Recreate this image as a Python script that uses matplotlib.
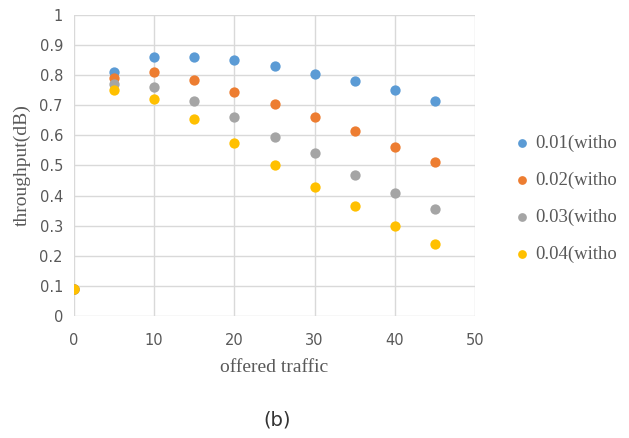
import matplotlib.pyplot as plt

x = [0, 5, 10, 15, 20, 25, 30, 35, 40, 45]
s001 = [0.09, 0.81, 0.86, 0.86, 0.85, 0.83, 0.805, 0.78, 0.75, 0.715]
s002 = [0.09, 0.79, 0.81, 0.785, 0.745, 0.705, 0.66, 0.615, 0.56, 0.51]
s003 = [0.09, 0.77, 0.76, 0.715, 0.66, 0.595, 0.54, 0.47, 0.41, 0.355]
s004 = [0.09, 0.75, 0.72, 0.655, 0.575, 0.50, 0.43, 0.365, 0.30, 0.24]
# legend text is cut at the right edge in the original figure
labels = ["0.01(witho", "0.02(witho", "0.03(witho", "0.04(witho"]
colors = ["#5B9BD5", "#ED7D31", "#A5A5A5", "#FFC000"]

fig = plt.figure(figsize=(6.29, 4.38), dpi=100)
ax = fig.add_axes([74/629, 1 - 316/438, 401/629, 301/438])

for ys, lab, c in zip([s001, s002, s003, s004], labels, colors):
    ax.scatter(x, ys, s=55, color=c, label=lab, zorder=3, linewidths=0)

ax.set_xlim(0, 50)
ax.set_ylim(0, 1)
ax.set_xticks(range(0, 51, 10))
ax.set_yticks([i / 10 for i in range(11)])
ax.set_yticklabels(["0", "0.1", "0.2", "0.3", "0.4", "0.5", "0.6", "0.7", "0.8", "0.9", "1"])
ax.grid(True, color="#D9D9D9", linewidth=1)
ax.set_axisbelow(True)
for sp in ax.spines.values():
    sp.set_visible(False)
ax.tick_params(length=0, labelsize=10.5, colors="#595959")
ax.tick_params(axis="x", pad=12)
ax.tick_params(axis="y", pad=8)

ax.set_xlabel("offered traffic", family="Liberation Serif", fontsize=14, color="#595959", labelpad=8)
ax.set_ylabel("throughput(dB)", family="Liberation Serif", fontsize=14, color="#595959", labelpad=6)

leg = fig.legend(loc="upper left", bbox_to_anchor=(503/629, 1 - 135/438), frameon=False,
                 prop={"family": "Liberation Serif", "size": 13.5}, handletextpad=-0.3,
                 labelspacing=1.05, markerscale=0.85, borderaxespad=0, borderpad=0)
for t in leg.get_texts():
    t.set_color("#595959")

fig.text(277/629, 1 - 420/438, "(b)", ha="center", va="center", fontsize=14, color="#333333")

fig.savefig("out.png", dpi=100)
